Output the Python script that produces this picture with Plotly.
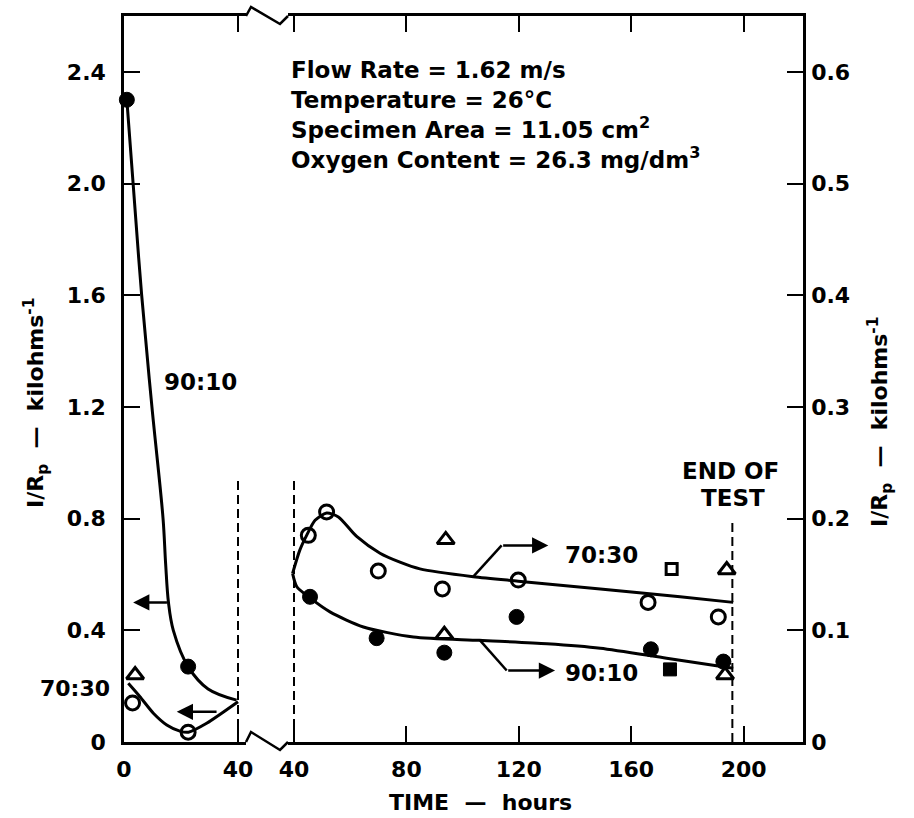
import plotly.graph_objects as go

# ---------------- data ----------------
# Left panel (0-40 h), left axis units (kilohms^-1)
L_9010_curve_t = [1, 3.2, 6.2, 9.8, 13.7, 14.6, 15.6, 17.3, 22.5, 29.5, 39.5]
L_9010_curve_v = [2.3, 2.0, 1.6, 1.2, 0.8, 0.64, 0.5, 0.4, 0.27, 0.19, 0.15]
L_7030_curve_t = [1.5, 5.6, 10.3, 15, 19.6, 22.6, 29, 40]
L_7030_curve_v = [0.21, 0.162, 0.103, 0.061, 0.039, 0.035, 0.067, 0.144]
L_filled_circle_t = [1, 22.5]
L_filled_circle_v = [2.3, 0.27]
L_open_circle_t = [3, 22.5]
L_open_circle_v = [0.14, 0.035]
L_open_triangle_t = [3.9]
L_open_triangle_v = [0.24]

# Right panel (40-200 h), right axis units (kilohms^-1)
R_7030_curve_t = [39.5, 42.1, 44.5, 47.5, 51.6, 55.8, 62.3, 70.6, 77.7, 84.8, 103.8, 119.8, 149, 177.4, 196.3]
R_7030_curve_v = [0.151, 0.172, 0.185, 0.1985, 0.205, 0.2015, 0.184, 0.169, 0.161, 0.155, 0.148, 0.144, 0.137, 0.130, 0.125]
R_9010_curve_t = [39.5, 41, 45.7, 52.8, 64.7, 82.5, 106, 130, 149, 172.6, 196.3]
R_9010_curve_v = [0.151, 0.139, 0.129, 0.1165, 0.103, 0.094, 0.091, 0.088, 0.084, 0.075, 0.066]
R_open_circle_t = [45.1, 51.6, 70, 92.8, 119.8, 166, 191]
R_open_circle_v = [0.185, 0.206, 0.153, 0.137, 0.145, 0.125, 0.112]
R_open_triangle_t = [94, 194, 93.5, 193.4]
R_open_triangle_v = [0.181, 0.154, 0.096, 0.06]
R_open_square_t = [174.4]
R_open_square_v = [0.155]
R_filled_circle_t = [45.7, 69.4, 93.5, 119.2, 167, 192.8]
R_filled_circle_v = [0.13, 0.093, 0.080, 0.112, 0.083, 0.072]
R_filled_square_t = [173.8]
R_filled_square_v = [0.065]

break_hour = 40
end_of_test_hour = 196
break_line_top_left = 0.94
break_line_top_right = 0.235
end_line_top = 0.2

left_yticks = [0, 0.4, 0.8, 1.2, 1.6, 2.0, 2.4]
left_yticklabels = ["0", "0.4", "0.8", "1.2", "1.6", "2.0", "2.4"]
right_yticks = [0, 0.1, 0.2, 0.3, 0.4, 0.5, 0.6]
right_yticklabels = ["0", "0.1", "0.2", "0.3", "0.4", "0.5", "0.6"]
left_xticks = [0, 40]
right_xticks = [40, 80, 120, 160, 200]

info_lines = ["Flow Rate = 1.62 m/s", "Temperature = 26°C",
              "Specimen Area = 11.05 cm<sup>2</sup>",
              "Oxygen Content = 26.3 mg/dm<sup>3</sup>"]
ytitle = "I/R<sub>p</sub>&nbsp;&nbsp;—&nbsp;&nbsp;kilohms<sup>-1</sup>"
xtitle = "TIME&nbsp;&nbsp;—&nbsp;&nbsp;hours"

# ---------------- layout geometry ----------------
W, H = 914, 818
ML, MR, MT, MB = 124, 111, 16, 76
PW, PH = W - ML - MR, H - MT - MB


def px(x):
    return (x - ML) / PW


def py(y):
    return (H - MB - y) / PH


FONT = "DejaVu Sans"
BLK = "black"
tickfont = dict(family=FONT, size=22, color=BLK, weight="bold")
lblfont = dict(family=FONT, size=22, color=BLK, weight="bold")

fig = go.Figure()

LW = 3


def curve(t, v, xa, ya, smooth=0.7):
    fig.add_trace(go.Scatter(x=t, y=v, mode="lines", xaxis=xa, yaxis=ya,
                             line=dict(color=BLK, width=LW, shape="spline", smoothing=smooth),
                             hoverinfo="skip", showlegend=False))


def pts(t, v, xa, ya, symbol, size, lw=3):
    fig.add_trace(go.Scatter(x=t, y=v, mode="markers", xaxis=xa, yaxis=ya,
                             marker=dict(symbol=symbol, size=size, color=BLK,
                                         line=dict(color=BLK, width=lw)),
                             cliponaxis=False, showlegend=False))


curve(L_9010_curve_t, L_9010_curve_v, "x", "y", 1.0)
curve(L_7030_curve_t, L_7030_curve_v, "x", "y")
curve(R_7030_curve_t, R_7030_curve_v, "x2", "y2")
curve(R_9010_curve_t, R_9010_curve_v, "x2", "y2")

pts(L_filled_circle_t, L_filled_circle_v, "x", "y", "circle", 15, 1)
pts(L_open_circle_t, L_open_circle_v, "x", "y", "circle-open", 14)
pts(L_open_triangle_t, L_open_triangle_v, "x", "y", "triangle-up-open", 15)

pts(R_open_circle_t, R_open_circle_v, "x2", "y2", "circle-open", 14)
pts(R_open_triangle_t, R_open_triangle_v, "x2", "y2", "triangle-up-open", 15)
pts(R_open_square_t, R_open_square_v, "x2", "y2", "square-open", 11)
pts(R_filled_circle_t, R_filled_circle_v, "x2", "y2", "circle", 15, 1)
pts(R_filled_square_t, R_filled_square_v, "x2", "y2", "square", 13, 1)

# dashed lines
dash = dict(color=BLK, width=2, dash="9px,5px")
fig.add_shape(type="line", xref="x", yref="y", x0=break_hour, x1=break_hour,
              y0=0, y1=break_line_top_left, line=dash)
fig.add_shape(type="line", xref="x2", yref="y2", x0=break_hour, x1=break_hour,
              y0=0, y1=break_line_top_right, line=dash)
fig.add_shape(type="line", xref="x2", yref="y2", x0=end_of_test_hour, x1=end_of_test_hour,
              y0=0, y1=end_line_top, line=dash)


# axis break zigzags (paper coords)
def zig(pts_px):
    p = "M " + " L ".join(f"{px(a):.5f},{py(b):.5f}" for a, b in pts_px)
    fig.add_shape(type="path", xref="paper", yref="paper", path=p,
                  line=dict(color=BLK, width=2.5))


zig([(246, 742), (251, 732), (280, 750), (288, 742)])
zig([(246, 16), (251, 7), (280, 24), (288, 16)])

# leader legs
fig.add_shape(type="line", xref="x2", yref="y2", x0=103.8, y0=0.148, x1=113.9, y1=0.176,
              line=dict(color=BLK, width=2.5))
fig.add_shape(type="line", xref="x2", yref="y2", x0=106.2, y0=0.091, x1=115.7, y1=0.064,
              line=dict(color=BLK, width=2.5))

ann = []


def arrow(x, y, ax, ay, xr, yr):
    ann.append(dict(x=x, y=y, ax=ax, ay=ay, xref=xr, yref=yr, axref=xr, ayref=yr,
                    text="", showarrow=True, arrowhead=2, arrowsize=1.3,
                    arrowwidth=2.5, arrowcolor=BLK))


arrow(3.2, 0.5, 15.6, 0.5, "x", "y")
arrow(18.5, 0.108, 33, 0.108, "x", "y")
arrow(130.5, 0.176, 113.9, 0.176, "x2", "y2")
arrow(132.9, 0.064, 115.7, 0.064, "x2", "y2")


def label(text, x, y, xr="paper", yr="paper", xanchor="center", size=22, angle=0):
    f = dict(lblfont)
    f["size"] = size
    ann.append(dict(text=text, x=x, y=y, xref=xr, yref=yr, xanchor=xanchor,
                    yanchor="middle", showarrow=False, font=f, textangle=angle))


label("90:10", 27.0, 1.288, "x", "y", size=23)
label("70:30", px(75), py(688), size=22)
label("70:30", 149.3, 0.167, "x2", "y2", size=23)
label("90:10", 149.3, 0.062, "x2", "y2", size=23)
label("END OF", px(730), py(471), size=23)
label("TEST", px(733), py(498), size=23)
label(ytitle, px(36), py(403), size=22, angle=-90)
label(ytitle, px(880), py(422), size=22, angle=-90)
label(xtitle, px(480), py(803), size=22)

f = dict(lblfont)
f["size"] = 23
ann.append(dict(text="<br>".join(info_lines), x=px(289), y=py(55), xref="paper", yref="paper",
                xanchor="left", yanchor="top", align="left", showarrow=False, font=f))

axis_common = dict(showline=True, linecolor=BLK, linewidth=2.5, ticks="inside",
                   ticklen=16, tickwidth=2, tickcolor=BLK, showgrid=False, zeroline=False,
                   tickfont=tickfont)

fig.update_layout(
    width=W, height=H, autosize=False,
    margin=dict(l=ML, r=MR, t=MT, b=MB, pad=0),
    paper_bgcolor="white", plot_bgcolor="white",
    showlegend=False,
    annotations=ann,
    xaxis=dict(domain=[0, px(246)], range=[0, (246 - ML) / 2.85], anchor="y",
               tickvals=left_xticks, ticktext=[str(v) for v in left_xticks],
               mirror="ticks", ticklabelstandoff=6, **axis_common),
    xaxis2=dict(domain=[px(288), 1], range=[40 - (294 - 288) / 2.81, 40 + (803 - 294) / 2.81],
                anchor="y2", tickvals=right_xticks, ticktext=[str(v) for v in right_xticks],
                mirror="ticks", ticklabelstandoff=6, **axis_common),
    yaxis=dict(domain=[0, 1], range=[0, 2.6], anchor="x", tickvals=left_yticks,
               ticktext=left_yticklabels, ticklabelstandoff=11, **axis_common),
    yaxis2=dict(domain=[0, 1], range=[0, 0.65], anchor="x2", side="right",
                tickvals=right_yticks, ticktext=right_yticklabels,
                ticklabelstandoff=1, **axis_common),
)

fig.write_html("out.html")
